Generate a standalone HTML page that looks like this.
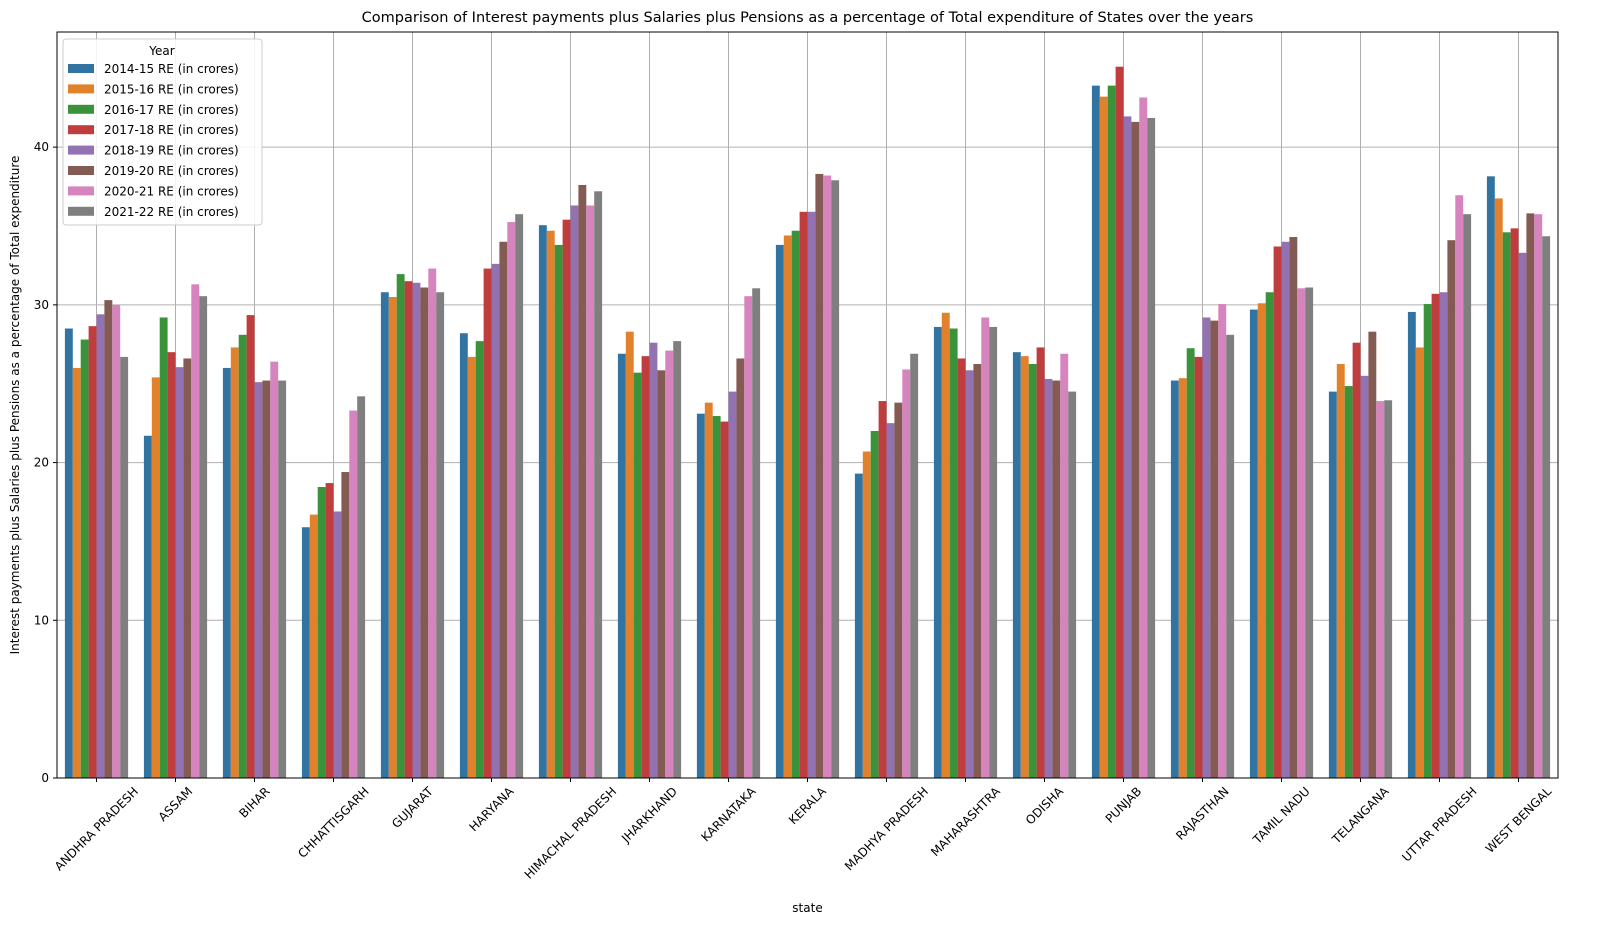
<!DOCTYPE html>
<html><head><meta charset="utf-8"><style>
body{margin:0;background:#fff;font-family:"Liberation Sans","DejaVu Sans",sans-serif;}
svg{display:block}
text{font-family:"DejaVu Sans","Liberation Sans",sans-serif;fill:#000}
</style></head><body>
<svg id="chart" width="1616" height="952" viewBox="0 0 1616 952"></svg>
<script>
const states=["ANDHRA PRADESH","ASSAM","BIHAR","CHHATTISGARH","GUJARAT","HARYANA","HIMACHAL PRADESH","JHARKHAND","KARNATAKA","KERALA","MADHYA PRADESH","MAHARASHTRA","ODISHA","PUNJAB","RAJASTHAN","TAMIL NADU","TELANGANA","UTTAR PRADESH","WEST BENGAL"];
const years=["2014-15 RE (in crores)","2015-16 RE (in crores)","2016-17 RE (in crores)","2017-18 RE (in crores)","2018-19 RE (in crores)","2019-20 RE (in crores)","2020-21 RE (in crores)","2021-22 RE (in crores)"];
const y2014=[28.5,21.7,26.0,15.9,30.8,28.2,35.05,26.9,23.1,33.8,19.3,28.6,27.0,43.9,25.2,29.7,24.5,29.55,38.15];
const y2015=[26.0,25.4,27.3,16.7,30.5,26.7,34.7,28.3,23.8,34.4,20.7,29.5,26.75,43.2,25.35,30.1,26.25,27.3,36.75];
const y2016=[27.8,29.2,28.1,18.45,31.95,27.7,33.8,25.7,22.95,34.7,22.0,28.5,26.25,43.9,27.25,30.8,24.85,30.05,34.6];
const y2017=[28.65,27.0,29.35,18.7,31.5,32.3,35.4,26.75,22.6,35.9,23.9,26.6,27.3,45.1,26.7,33.7,27.6,30.7,34.85];
const y2018=[29.4,26.05,25.1,16.9,31.4,32.6,36.3,27.6,24.5,35.9,22.5,25.85,25.3,41.95,29.2,34.0,25.5,30.8,33.3];
const y2019=[30.3,26.6,25.2,19.4,31.1,34.0,37.6,25.85,26.6,38.3,23.8,26.25,25.2,41.6,29.0,34.3,28.3,34.1,35.8];
const y2020=[30.0,31.3,26.4,23.3,32.3,35.25,36.3,27.1,30.55,38.2,25.9,29.2,26.9,43.15,30.05,31.05,23.9,36.95,35.75];
const y2021=[26.7,30.55,25.2,24.2,30.8,35.75,37.2,27.7,31.05,37.9,26.9,28.6,24.5,41.85,28.1,31.1,23.95,35.75,34.35];
const series=[y2014,y2015,y2016,y2017,y2018,y2019,y2020,y2021];
const yTicks=[0,10,20,30,40];
const colors=["#3274a1","#e1812c","#3a923a","#c03d3e","#9372b2","#845b53","#d684bd","#7f7f7f"];
const L=57,R=1558,T=32,B=778,yMax=47.3;
const NS="http://www.w3.org/2000/svg";
const svg=document.getElementById('chart');
function el(t,a,p){const e=document.createElementNS(NS,t);for(const k in a)e.setAttribute(k,a[k]);(p||svg).appendChild(e);return e;}
const band=(R-L)/states.length;
const xC=i=>L+band*(i+0.5);
const yS=v=>B-(v/yMax)*(B-T);
yTicks.forEach(t=>{const g=el('line',{x1:L,x2:R,y1:yS(t),y2:yS(t),stroke:'#b0b0b0','stroke-width':1});

});
states.forEach((s,i)=>{const g=el('line',{x1:xC(i),x2:xC(i),y1:T,y2:B,stroke:'#b0b0b0','stroke-width':1});

});
const bw=band*0.8/8;
series.forEach((arr,j)=>{arr.forEach((v,i)=>{
const x=xC(i)-band*0.4+j*bw;
const r=el('rect',{x:x,y:yS(v),width:bw,height:B-yS(v),fill:colors[j]});

});});
const f=el('rect',{x:L,y:T,width:R-L,height:B-T,fill:'none',stroke:'#000','stroke-width':1});


yTicks.forEach(t=>{el('line',{x1:L-4,x2:L,y1:yS(t),y2:yS(t),stroke:'#000'});
const tx=el('text',{x:L-8,y:yS(t)+4,'text-anchor':'end','font-size':12});tx.textContent=t;

});
states.forEach((s,i)=>{el('line',{x1:xC(i),x2:xC(i),y1:B,y2:B+4,stroke:'#000'});
const tx=el('text',{'text-anchor':'middle','font-size':12});tx.textContent=s;


const w=tx.getComputedTextLength(), h=12;
const cx=xC(i), cy=B+7+(w+h)*0.7071/2;
tx.setAttribute('x',cx);tx.setAttribute('y',cy+4);
tx.setAttribute('transform',`rotate(-45 ${cx} ${cy})`);});
let t=el('text',{x:(L+R)/2,y:22,'text-anchor':'middle','font-size':14.5});t.textContent='Comparison of Interest payments plus Salaries plus Pensions as a percentage of Total expenditure of States over the years';


t=el('text',{x:(L+R)/2,y:912,'text-anchor':'middle','font-size':12});t.textContent='state';


t=el('text',{x:19,y:(T+B)/2,'text-anchor':'middle','font-size':12,transform:`rotate(-90 19 ${(T+B)/2})`});t.textContent='Interest payments plus Salaries plus Pensions as a percentage of Total expenditure';


const lg=el('g',{});


el('rect',{x:63,y:39,width:199,height:186,rx:3,fill:'#fff','fill-opacity':0.85,stroke:'#ccc'},lg);
t=el('text',{x:162,y:55,'text-anchor':'middle','font-size':12},lg);t.textContent='Year';
years.forEach((yv,j)=>{const yy=64+j*20.4;
const e=el('rect',{x:68,y:yy,width:26,height:9,fill:colors[j]},lg);


const tt=el('text',{x:104,y:yy+9,'font-size':12},lg);tt.textContent=yv;

});
</script>
</body></html>
